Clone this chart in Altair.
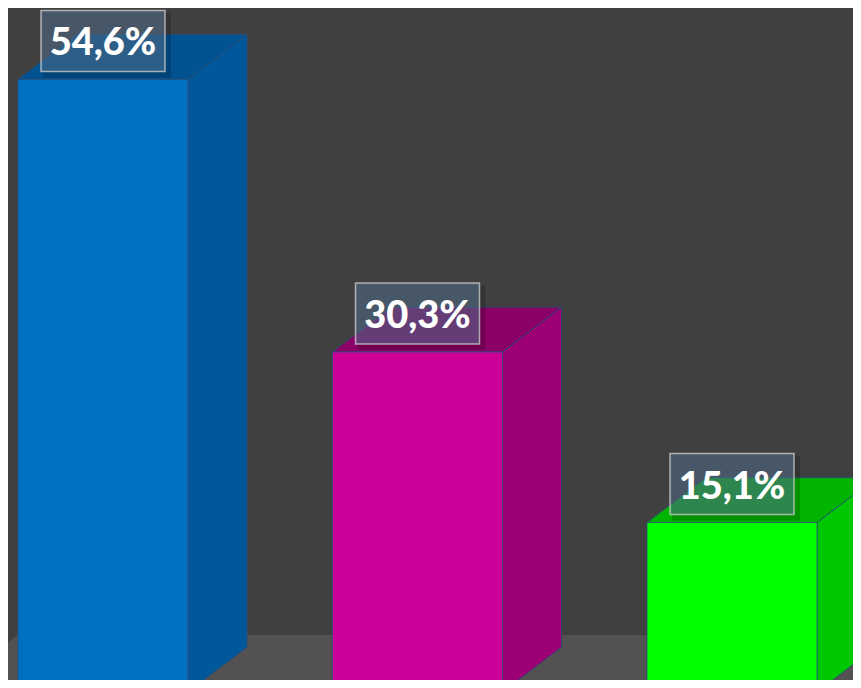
import altair as alt
import pandas as pd

# ---- data ----
categories = ["A", "B", "C"]
values = [54.6, 30.3, 15.1]
labels = ["54,6%", "30,3%", "15,1%"]

front_colors = ["#0070C0", "#CC0099", "#00FF00"]
side_colors = ["#00589A", "#9C0074", "#00C800"]
top_colors = ["#005291", "#8A0066", "#00B400"]

BG = "#404040"
FLOOR = "#535151"
EDGE = "#2B4F7A"

# ---- geometry (slot units / value units) ----
hw = 0.2703      # half bar width in slot units
dx = 0.1876      # depth offset x in slot units
dv = 4.0         # depth offset y in value units
floor_back = 5.08

X_DOM = [-0.30207, 2.38474]
Y_DOM = [1.0695, 60.963]

xs = alt.Scale(domain=X_DOM, nice=False, zero=False)
ys = alt.Scale(domain=Y_DOM, nice=False, zero=False)

front = pd.DataFrame({
    "cat": categories,
    "x": [i - hw for i in range(3)],
    "x2": [i + hw for i in range(3)],
    "y": [0.0] * 3,
    "y2": values,
    "label": labels,
    "xc": list(range(3)),
    "fill": front_colors,
})

side_rows = []
top_rows = []
for i, (c, v) in enumerate(zip(categories, values)):
    side_rows.append({"cat": c, "x": i + hw, "y": 0.0, "y2": v, "fill": side_colors[i]})
    side_rows.append({"cat": c, "x": i + hw + dx, "y": dv, "y2": v + dv, "fill": side_colors[i]})
    top_rows.append({"cat": c, "y": v, "x": i - hw, "x2": i + hw, "fill": top_colors[i]})
    top_rows.append({"cat": c, "y": v + dv, "x": i - hw + dx, "x2": i + hw + dx, "fill": top_colors[i]})
side = pd.DataFrame(side_rows)
top = pd.DataFrame(top_rows)

floor_df = pd.DataFrame({
    "y": [floor_back, 0.0],
    "x": [-hw, -hw - dx * floor_back / dv],
    "x2": [3.0, 3.0],
})

floor = alt.Chart(floor_df).mark_area(orient="horizontal", color=FLOOR, clip=True).encode(
    y=alt.Y("y:Q", scale=ys, axis=None),
    x=alt.X("x:Q", scale=xs, axis=None),
    x2="x2:Q",
)

sides = alt.Chart(side).mark_area(stroke=EDGE, strokeWidth=1, strokeOpacity=0.8, clip=True).encode(
    x=alt.X("x:Q", scale=xs, axis=None),
    y=alt.Y("y:Q", scale=ys, axis=None),
    y2="y2:Q",
    fill=alt.Fill("fill:N", scale=None),
    detail="cat:N",
)

tops = alt.Chart(top).mark_area(orient="horizontal", stroke=EDGE, strokeWidth=1, strokeOpacity=0.8, clip=True).encode(
    y=alt.Y("y:Q", scale=ys, axis=None),
    x=alt.X("x:Q", scale=xs, axis=None),
    x2="x2:Q",
    fill=alt.Fill("fill:N", scale=None),
    detail="cat:N",
)

fronts = alt.Chart(front).mark_rect(stroke=EDGE, strokeWidth=1, strokeOpacity=0.8, clip=True).encode(
    x=alt.X("x:Q", scale=xs, axis=None),
    x2="x2:Q",
    y=alt.Y("y:Q", scale=ys, axis=None),
    y2="y2:Q",
    fill=alt.Fill("fill:N", scale=None),
)

shadow = alt.Chart(front).mark_rect(
    color="#000000", opacity=0.18, xOffset=-60, x2Offset=68, yOffset=-67, y2Offset=-2
).encode(
    x=alt.X("xc:Q", scale=xs, axis=None),
    x2="xc:Q",
    y=alt.Y("y2:Q", scale=ys, axis=None),
    y2="y2:Q",
)

boxes = alt.Chart(front).mark_rect(
    fill="#5A7A9A", fillOpacity=0.5, stroke="#C8C8C8", strokeOpacity=0.8, strokeWidth=1.5,
    xOffset=-62, x2Offset=62, yOffset=-69, y2Offset=-8,
).encode(
    x=alt.X("xc:Q", scale=xs, axis=None),
    x2="xc:Q",
    y=alt.Y("y2:Q", scale=ys, axis=None),
    y2="y2:Q",
)

texts = alt.Chart(front).mark_text(
    font="Lato", fontWeight=900, fontSize=38, color="white",
    baseline="middle", align="center", dy=-35,
).encode(
    x=alt.X("xc:Q", scale=xs, axis=None),
    y=alt.Y("y2:Q", scale=ys, axis=None),
    text="label:N",
)

chart = alt.layer(floor, sides, tops, fronts, shadow, boxes, texts).properties(
    width=845, height=672, background=BG, padding=0,
    autosize=alt.AutoSizeParams(type="none"),
).configure_view(stroke=None)

chart.save("out.html", embed_options={"renderer": "svg", "actions": False})
